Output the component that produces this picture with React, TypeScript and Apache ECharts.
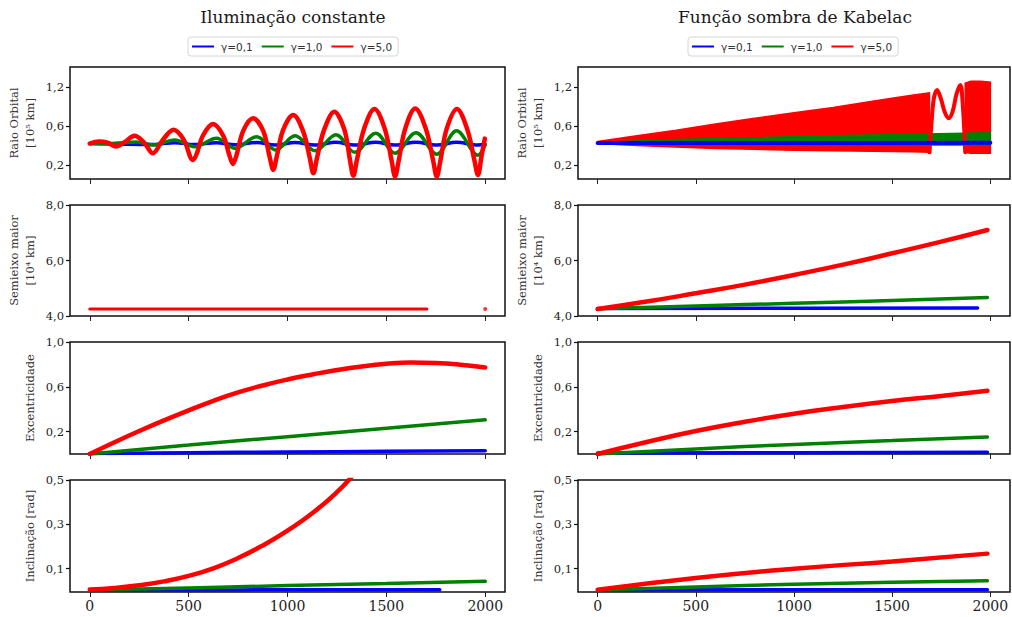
import React, { useEffect, useRef } from "react";
import * as echarts from "echarts";

// ---------- labels ----------
const titles = ["Iluminação constante", "Função sombra de Kabelac"];
const seriesNames = ["γ=0,1", "γ=1,0", "γ=5,0"];
const colors = ["#0000ff", "#008000", "#ff0000"];
const yNames = ["Raio Orbital\n[10⁵ km]", "Semieixo maior\n[10⁴ km]", "Excentricidade", "Inclinação [rad]"];
const xTickValues = [0, 500, 1000, 1500, 2000];
const yTickValues = [[0.2, 0.6, 1.0], [4, 6, 8], [0.2, 0.6, 1.0], [0.1, 0.3, 0.5]];
const yTickLabels = [["0,2", "0,6", "1,2"], ["4,0", "6,0", "8,0"], ["0,2", "0,6", "1,0"], ["0,1", "0,3", "0,5"]];
const yRanges = [[0.056, 1.205], [4, 8], [0, 1], [-0.005, 0.5]];

// ---------- left column: constant illumination ----------
// Raio orbital
const lRadT5 = [0,45,90,133,180,226,275,319,370,424,475,522,540,572,623,675,706,724,742,776,826,877,910,928,946,978,1029,1080,1113,1131,1149,1185,1237,1288,1316,1333,1351,1387,1440,1492,1527,1544,1562,1595,1646,1700,1737,1755,1773,1805,1857,1910,1945,1963,1982,1998];
const lRadV5 = [0.42,0.44,0.43,0.39,0.44,0.50,0.43,0.32,0.46,0.56,0.46,0.25,0.31,0.50,0.62,0.50,0.30,0.21,0.30,0.55,0.68,0.55,0.28,0.15,0.29,0.56,0.713,0.54,0.27,0.115,0.27,0.56,0.747,0.56,0.25,0.09,0.25,0.57,0.774,0.57,0.24,0.08,0.24,0.57,0.78,0.57,0.24,0.08,0.24,0.57,0.774,0.56,0.25,0.097,0.30,0.47];
const lRadT1 = [0,100,236,320,430,530,641,735,844,940,1038,1140,1245,1340,1446,1544,1650,1755,1855,1963,2000];
const lRadV1 = [0.42,0.42,0.435,0.405,0.456,0.388,0.474,0.37,0.49,0.354,0.50,0.345,0.51,0.33,0.525,0.32,0.53,0.31,0.55,0.30,0.41];
const lRadT01 = [0,320,430,530,640,735,844,940,1038,1140,1245,1340,1446,1544,1650,1755,1855,1963,2000];
const lRadV01 = [0.42,0.41,0.428,0.41,0.428,0.408,0.43,0.405,0.43,0.405,0.432,0.405,0.432,0.405,0.432,0.405,0.432,0.405,0.41];
// Semieixo maior
const lSmaT5 = [0, 1705];
const lSmaV5 = [4.25, 4.25];
const lSmaDotT5 = [2000];
const lSmaDotV5 = [4.25];
// Excentricidade
const lEccT5 = [0,125,250,375,500,625,750,875,1000,1125,1250,1375,1500,1625,1750,1875,2000];
const lEccV5 = [0,0.105,0.205,0.30,0.39,0.475,0.55,0.612,0.665,0.71,0.75,0.782,0.805,0.816,0.812,0.797,0.772];
const lEccT1 = [0,500,1000,1500,2000];
const lEccV1 = [0,0.08,0.155,0.23,0.305];
const lEccT01 = [0,500,1000,1500,2000];
const lEccV01 = [0.005,0.012,0.018,0.024,0.03];
// Inclinação
const lIncT5 = [0,125,250,375,500,625,750,875,1000,1125,1250,1330];
const lIncV5 = [0.006,0.013,0.025,0.043,0.068,0.102,0.148,0.205,0.272,0.35,0.445,0.52];
const lIncT1 = [0,500,1000,1500,2000];
const lIncV1 = [0.004,0.013,0.024,0.033,0.043];
const lIncT01 = [0,500,1000,1500,1770];
const lIncV01 = [0.004,0.004,0.005,0.005,0.005];

// ---------- right column: Kabelac shadow ----------
// Raio orbital (dense oscillation drawn as envelope bands)
const rRadBandAT5 = [0,200,400,600,800,1000,1200,1400,1600,1690];
const rRadBandAUp5 = [0.44,0.50,0.555,0.62,0.68,0.735,0.79,0.855,0.915,0.94];
const rRadBandALo5 = [0.42,0.40,0.385,0.37,0.36,0.35,0.345,0.34,0.335,0.33];
const rRadWaveT5 = [1690,1700,1712,1729,1748,1768,1788,1808,1828,1847,1860,1872];
const rRadWaveV5 = [0.33,0.62,0.88,0.97,0.88,0.74,0.68,0.75,0.93,1.02,0.8,0.33];
const rRadBandBT5 = [1872,1900,1950,2000];
const rRadBandBUp5 = [1.04,1.06,1.06,1.05];
const rRadBandBLo5 = [0.33,0.32,0.32,0.32];
const rRadBandT1 = [0,400,800,1200,1600,2000];
const rRadBandUp1 = [0.43,0.46,0.48,0.50,0.515,0.53];
const rRadBandLo1 = [0.42,0.415,0.41,0.41,0.405,0.405];
const rRadT01 = [0,1000,2000];
const rRadV01 = [0.425,0.425,0.427];
// Semieixo maior
const rSmaT5 = [0,250,500,750,1000,1250,1500,1750,1985];
const rSmaV5 = [4.25,4.52,4.82,5.13,5.48,5.85,6.26,6.68,7.1];
const rSmaT1 = [0,500,1000,1500,1985];
const rSmaV1 = [4.26,4.36,4.46,4.56,4.67];
const rSmaT01 = [0,1000,1935];
const rSmaV01 = [4.27,4.28,4.29];
// Excentricidade
const rEccT5 = [0,250,500,750,1000,1250,1500,1750,1985];
const rEccV5 = [0,0.107,0.205,0.288,0.36,0.42,0.473,0.518,0.565];
const rEccT1 = [0,500,1000,1500,1985];
const rEccV1 = [0,0.045,0.085,0.12,0.152];
const rEccT01 = [0,1000,1985];
const rEccV01 = [0.008,0.012,0.015];
// Inclinação
const rIncT5 = [0,500,1000,1500,1985];
const rIncV5 = [0.005,0.058,0.1,0.133,0.168];
const rIncT1 = [0,500,1000,1500,1985];
const rIncV1 = [0.004,0.018,0.03,0.039,0.046];
const rIncT01 = [0,1000,1985];
const rIncV01 = [0.004,0.005,0.005];

// ---------- layout ----------
const colBoxes = [{ left: 70, width: 435 }, { left: 578, width: 432 }];
const rowBoxes = [
  { top: 67, height: 112 },
  { top: 205, height: 111 },
  { top: 342, height: 112 },
  { top: 480, height: 112 },
];
const SERIF = "DejaVu Serif";

function pairs(t: number[], v: number[]) {
  return t.map((x, i) => [x, v[i]]);
}

function line(si: number, gi: number, t: number[], v: number[], width: number, smooth = 0.35) {
  return {
    type: "line",
    name: seriesNames[si],
    xAxisIndex: gi,
    yAxisIndex: gi,
    data: pairs(t, v),
    showSymbol: false,
    smooth,
    clip: true,
    lineStyle: { color: colors[si], width, cap: "round", join: "round" },
    itemStyle: { color: colors[si] },
  };
}

function band(si: number, gi: number, t: number[], up: number[], lo: number[]) {
  return {
    type: "custom",
    name: seriesNames[si],
    xAxisIndex: gi,
    yAxisIndex: gi,
    clip: true,
    itemStyle: { color: colors[si] },
    data: t.map((x, i) => [x, up[i], lo[i]]),
    encode: { x: 0, y: [1, 2] },
    renderItem: (params: any, api: any) => {
      if (params.dataIndex !== 0) return null;
      const pts: number[][] = [];
      for (let i = 0; i < t.length; i++) pts.push(api.coord([t[i], up[i]]));
      for (let i = t.length - 1; i >= 0; i--) pts.push(api.coord([t[i], lo[i]]));
      return {
        type: "polygon",
        shape: { points: pts, smooth: 0 },
        style: { fill: colors[si], stroke: colors[si], lineWidth: 1.5 },
      };
    },
  };
}

function buildOption() {
  const grids: any[] = [];
  const xAxes: any[] = [];
  const yAxes: any[] = [];
  for (let c = 0; c < 2; c++) {
    for (let r = 0; r < 4; r++) {
      const gi = c * 4 + r;
      grids.push({
        left: colBoxes[c].left,
        width: colBoxes[c].width,
        top: rowBoxes[r].top,
        height: rowBoxes[r].height,
        show: true,
        borderColor: "#111",
        borderWidth: 1.5,
        backgroundColor: "#fff",
      });
      xAxes.push({
        type: "value",
        gridIndex: gi,
        min: -100,
        max: 2100,
        position: "bottom",
        axisLine: { show: false, onZero: false },
        splitLine: { show: false },
        axisTick: { show: true, customValues: xTickValues, length: 5, lineStyle: { color: "#222", width: 1 } },
        axisLabel: {
          show: r === 3,
          customValues: xTickValues,
          margin: 7,
          fontFamily: SERIF,
          fontSize: 14,
          color: "#222",
          formatter: (v: number) => String(v),
        },
      });
      const vals = yTickValues[r];
      const labs = yTickLabels[r];
      yAxes.push({
        type: "value",
        gridIndex: gi,
        min: yRanges[r][0],
        max: yRanges[r][1],
        position: "left",
        name: yNames[r],
        nameLocation: "middle",
        nameGap: 32,
        nameTextStyle: { fontFamily: SERIF, fontSize: 11.5, color: "#333", lineHeight: 16 },
        axisLine: { show: false, onZero: false },
        splitLine: { show: false },
        axisTick: { show: true, customValues: vals, length: 4, lineStyle: { color: "#111", width: 1.2 } },
        axisLabel: {
          customValues: vals,
          margin: 6,
          fontFamily: SERIF,
          fontSize: 11.5,
          color: "#222",
          formatter: (v: number) => {
            const k = vals.findIndex((x) => Math.abs(x - v) < 1e-9);
            return k >= 0 ? labs[k] : "";
          },
        },
      });
    }
  }

  const series: any[] = [
    // left row 1
    line(0, 0, lRadT01, lRadV01, 3.5),
    line(1, 0, lRadT1, lRadV1, 3.5),
    line(2, 0, lRadT5, lRadV5, 4.5),
    // left row 2
    line(2, 1, lSmaT5, lSmaV5, 3),
    {
      type: "scatter",
      name: seriesNames[2],
      xAxisIndex: 1,
      yAxisIndex: 1,
      data: pairs(lSmaDotT5, lSmaDotV5),
      symbolSize: 4,
      itemStyle: { color: colors[2] },
    },
    // left row 3
    line(0, 2, lEccT01, lEccV01, 3.5, 0.5),
    line(1, 2, lEccT1, lEccV1, 3.5, 0.5),
    line(2, 2, lEccT5, lEccV5, 4.5, 0.5),
    // left row 4
    line(0, 3, lIncT01, lIncV01, 3.5, 0.5),
    line(1, 3, lIncT1, lIncV1, 3.5, 0.5),
    line(2, 3, lIncT5, lIncV5, 4.5, 0.5),
    // right row 1
    band(2, 4, rRadBandAT5, rRadBandAUp5, rRadBandALo5),
    line(2, 4, rRadWaveT5, rRadWaveV5, 4),
    band(2, 4, rRadBandBT5, rRadBandBUp5, rRadBandBLo5),
    band(1, 4, rRadBandT1, rRadBandUp1, rRadBandLo1),
    line(0, 4, rRadT01, rRadV01, 4),
    // right row 2
    line(0, 5, rSmaT01, rSmaV01, 3.5, 0.5),
    line(1, 5, rSmaT1, rSmaV1, 3.5, 0.5),
    line(2, 5, rSmaT5, rSmaV5, 4.5, 0.5),
    // right row 3
    line(0, 6, rEccT01, rEccV01, 3.5, 0.5),
    line(1, 6, rEccT1, rEccV1, 3.5, 0.5),
    line(2, 6, rEccT5, rEccV5, 4.5, 0.5),
    // right row 4
    line(0, 7, rIncT01, rIncV01, 3.5, 0.5),
    line(1, 7, rIncT1, rIncV1, 3.5, 0.5),
    line(2, 7, rIncT5, rIncV5, 4.5, 0.5),
  ];

  const legendBase = {
    top: 37,
    orient: "horizontal",
    selectedMode: false,
    itemWidth: 22,
    itemHeight: 2,
    itemGap: 9,
    padding: [4, 6, 4, 4],
    borderColor: "#d6d6d6",
    borderWidth: 1,
    borderRadius: 3,
    backgroundColor: "#fff",
    textStyle: { fontFamily: "DejaVu Sans", fontSize: 10.5, color: "#333", padding: [0, 0, 0, 2] },
    data: seriesNames.map((n) => ({ name: n, icon: "rect" })),
  };

  return {
    animation: false,
    backgroundColor: "#fff",
    grid: grids,
    xAxis: xAxes,
    yAxis: yAxes,
    legend: [
      { ...legendBase, left: 188 },
      { ...legendBase, left: 688 },
    ],
    graphic: [
      {
        type: "text",
        x: 293,
        y: 17,
        style: { text: titles[0], textAlign: "center", textVerticalAlign: "middle", fontFamily: SERIF, fontSize: 17, fill: "#1a1a1a" },
      },
      {
        type: "text",
        x: 795,
        y: 17,
        style: { text: titles[1], textAlign: "center", textVerticalAlign: "middle", fontFamily: SERIF, fontSize: 17, fill: "#1a1a1a" },
      },
    ],
    series,
  };
}

export default function App() {
  const ref = useRef<HTMLDivElement>(null);
  useEffect(() => {
    const chart = echarts.init(ref.current!, null, { renderer: "svg" });
    chart.setOption(buildOption() as any);
    return () => chart.dispose();
  }, []);
  return <div ref={ref} style={{ position: "fixed", left: 0, top: 0, width: 1012, height: 617 }} />;
}
